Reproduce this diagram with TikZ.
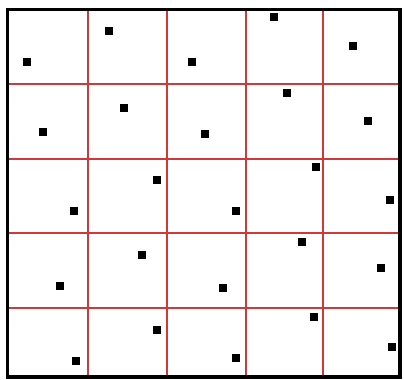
\documentclass[tikz,border=0pt]{standalone}
\usepackage{tikz}
\usetikzlibrary{positioning}
\usepackage{xcolor}
\definecolor{gridred}{rgb}{0.82,0.22,0.22}

\begin{document}
\begin{tikzpicture}[
		x=0.75pt, y=-0.75pt,
		dt/.style = {rectangle, fill=black, inner sep=0pt, minimum size=6pt},
		gl/.style = {draw=gridred, line width=1.1pt},
		bd/.style = {draw=black, line width=2.3pt},
		]
		\useasboundingbox (0, 0) rectangle (404, 379);
		
		% === === Grid === ===
		\draw[gl]	(88, 9.5)	--	(88, 377);
		\draw[gl]	(167, 9.5)	--	(167, 377);
		\draw[gl]	(246, 9.5)	--	(246, 377);
		\draw[gl]	(323, 9.5)	--	(323, 377);
		\draw[gl]	(7.5, 84)	--	(400, 84);
		\draw[gl]	(7.5, 159)	--	(400, 159);
		\draw[gl]	(7.5, 233)	--	(400, 233);
		\draw[gl]	(7.5, 308)	--	(400, 308);
		
		% === === Border === ===
		\draw[bd]	(7.5, 9.5)	rectangle	(400, 377);
		
		% === === Points === ===
		\node[dt]	(p11)	at	(27.3, 61.7)	{};
		\node[dt]	(p12)	at	(108.7, 31)		{};
		\node[dt]	(p13)	at	(192, 61.7)		{};
		\node[dt]	(p14)	at	(273.7, 17.3)	{};
		\node[dt]	(p15)	at	(353, 46.3)		{};
		
		\node[dt]	(p21)	at	(42.7, 132.3)	{};
		\node[dt]	(p22)	at	(124, 107.7)	{};
		\node[dt]	(p23)	at	(205.3, 134.3)	{};
		\node[dt]	(p24)	at	(287, 92.7)		{};
		\node[dt]	(p25)	at	(368.3, 121)	{};
		
		\node[dt]	(p31)	at	(73.7, 211)		{};
		\node[dt]	(p32)	at	(157.3, 180.3)	{};
		\node[dt]	(p33)	at	(236.3, 211)	{};
		\node[dt]	(p34)	at	(315.7, 167)	{};
		\node[dt]	(p35)	at	(390.3, 200)	{};
		
		\node[dt]	(p41)	at	(60.3, 286)		{};
		\node[dt]	(p42)	at	(141.7, 255)	{};
		\node[dt]	(p43)	at	(223, 288)		{};
		\node[dt]	(p44)	at	(302, 242)		{};
		\node[dt]	(p45)	at	(381.3, 268.3)	{};
		
		\node[dt]	(p51)	at	(75.7, 360.7)	{};
		\node[dt]	(p52)	at	(157, 329.7)	{};
		\node[dt]	(p53)	at	(236.3, 358.3)	{};
		\node[dt]	(p54)	at	(313.7, 316.7)	{};
		\node[dt]	(p55)	at	(392.3, 347)	{};
		
	\end{tikzpicture}
\end{document}
